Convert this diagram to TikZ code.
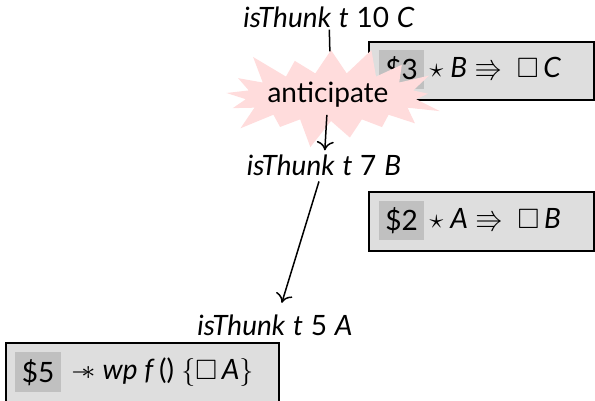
\RequirePackage{fix-cm}
\documentclass[tikz,border=0pt]{standalone}
\usepackage{amssymb}
\usepackage{fontspec}
\setmainfont{Lato}
\usetikzlibrary{shapes.symbols,arrows.meta}
\definecolor{boxfill}{HTML}{DEDEDE}
\definecolor{creditfill}{HTML}{C0C0C0}
\definecolor{burstfill}{HTML}{FFDCDC}
\begin{document}
\begin{tikzpicture}[x=1pt,y=-1pt,font=\fontsize{28}{32}\selectfont]
\useasboundingbox (0,0) rectangle (595,401);
\tikzset{
  goal/.style={inner sep=2pt},
  resbox/.style={draw=black,line width=1.8pt,fill=boxfill,anchor=north west,inner sep=0pt},
  credit/.style={fill=creditfill,anchor=north west,inner sep=0pt,minimum width=45pt,minimum height=39pt},
  formula/.style={anchor=west,inner sep=5pt},
  flow/.style={-{To[length=9pt,width=17pt]},line width=1.5pt}
}
% goals
\node[goal] (n10) at (329,17) {\textit{isThunk}\;\textit{t}\;10\;\textit{C}};
\node[goal] (n7) at (324,165) {\textit{isThunk}\;\textit{t}\;7\;\textit{B}};
\node[goal] (n5) at (275,325) {\textit{isThunk}\;\textit{t}\;5\;\textit{A}};
% resource boxes
\node[resbox,minimum width=225pt,minimum height=58pt] (b3) at (368,41) {};
\node[credit] (c3) at (379,50) {\$3};
\node[formula] (f3) at (c3.east) {$\star$ \textit{B} $\Rrightarrow$\ \ $\square$\,\textit{C}};
\node[resbox,minimum width=225pt,minimum height=59pt] (b2) at (368,191) {};
\node[credit] (c2) at (379,201) {\$2};
\node[formula] (f2) at (c2.east) {$\star$ \textit{A} $\Rrightarrow$\ \ $\square$\,\textit{B}};
\node[resbox,minimum width=273pt,minimum height=62pt] (b5) at (5,342) {};
\node[credit,minimum width=46pt,minimum height=40pt] (c5) at (15,352) {\$5};
\node[formula,inner sep=9pt] (f5) at (c5.east) {$\mathrel{-\mkern-7mu\ast}$\ \textit{wp f}\,()\ $\{\square$\,\textit{A}$\}$};
% burst
\node[starburst,fill=burstfill,draw=none,minimum width=235pt,minimum height=112pt,
      starburst points=17,starburst point height=32pt] (burst) at (331,97) {};
\node[inner sep=7pt] (ant) at (328,95) {anticipate};
% connectors
\draw[line width=1.5pt] (n10) -- (burst);
\draw[flow,shorten >=2pt] (ant) -- (n7);
\draw[flow,shorten <=4pt,shorten >=10pt] (n7) -- (n5);
\end{tikzpicture}
\end{document}
